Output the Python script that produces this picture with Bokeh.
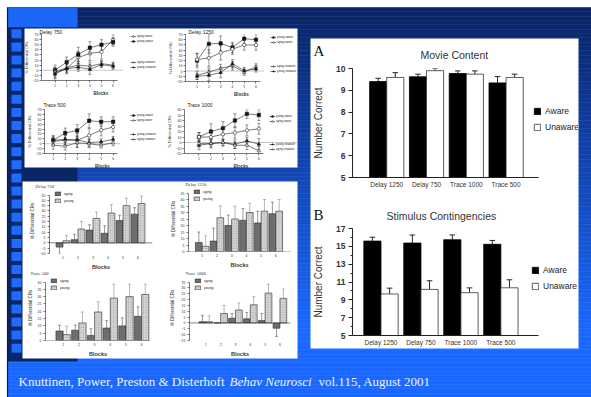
import numpy as np
from bokeh.plotting import figure
from bokeh.models import GridBox, Range1d, FixedTicker, Legend, LegendItem
from bokeh.embed import file_html
from bokeh.resources import INLINE
from bokeh.core.properties import value

W, H = 591, 397
SANS = "Liberation Sans"
SERIF = "Liberation Serif"

# ------------------------------------------------------------------ data
blocks = [1, 2, 3, 4, 5, 6]

# top-left line charts: % differential CRs
d750_aging_aware = [-5, 3, 25, 33, 36, 60]
d750_aging_aware_err = [10, 8, 12, 14, 14, 10]
d750_young_aware = [0, 16, 31, 44, 50, 55]
d750_young_aware_err = [10, 10, 14, 12, 10, 8]
d750_aging_unaware = [-3, 5, 10, 8, 13, 10]
d750_aging_unaware_err = [8, 8, 8, 8, 6, 6]
d750_young_unaware = [-7, 3, 6, 2, 11, 8]
d750_young_unaware_err = [10, 10, 8, 10, 6, 6]

d1250_young_aware = [20, 52, 53, 45, 62, 60]
d1250_young_aware_err = [14, 18, 14, 10, 10, 10]
d1250_aging_aware = [22, 25, 35, 42, 50, 50]
d1250_aging_aware_err = [12, 16, 14, 10, 10, 10]
d1250_aging_unaware = [-8, -2, 5, 10, -2, 8]
d1250_aging_unaware_err = [8, 8, 8, 8, 6, 6]
d1250_young_unaware = [-10, -8, -3, 14, 1, 4]
d1250_young_unaware_err = [6, 10, 10, 8, 6, 6]

t500_young_aware = [7, 22, 27, 47, 45, 45]
t500_young_aware_err = [10, 10, 12, 14, 10, 10]
t500_aging_aware = [5, 7, 7, 17, 28, 34]
t500_aging_aware_err = [8, 10, 14, 14, 12, 10]
t500_young_unaware = [7, 9, 8, 2, 4, 9]
t500_young_unaware_err = [8, 10, 8, 8, 6, 6]
t500_aging_unaware = [-3, -5, 2, 0, -3, 2]
t500_aging_unaware_err = [8, 8, 10, 8, 6, 6]

t1000_young_aware = [10, 20, 26, 40, 52, 50]
t1000_young_aware_err = [8, 14, 12, 12, 8, 10]
t1000_aging_aware = [10, 10, 15, 18, 22, 25]
t1000_aging_aware_err = [8, 10, 12, 10, 10, 10]
t1000_young_unaware = [-5, -2, 0, -3, 3, -3]
t1000_young_unaware_err = [8, 8, 6, 8, 6, 10]
t1000_aging_unaware = [-2, -2, 0, -5, -5, -15]
t1000_aging_unaware_err = [6, 6, 6, 6, 8, 8]

# bottom-left bar charts: % differential CRs, aging vs young
bar_d750_aging = [-4, 3, 12, 9, 21, 27]
bar_d750_aging_err = [6, 5, 5, 7, 5, 6]
bar_d750_young = [2, 13, 23, 28, 35, 37]
bar_d750_young_err = [5, 7, 6, 8, 7, 7]

bar_d1250_aging = [7, 8, 20, 24, 22, 29]
bar_d1250_aging_err = [8, 10, 8, 9, 9, 9]
bar_d1250_young = [4, 26, 25, 30, 31, 31]
bar_d1250_young_err = [8, 9, 10, 7, 9, 9]

bar_t500_aging = [6.5, 7, 3.5, 8.5, 10, 16.5]
bar_t500_aging_err = [4, 3.5, 4.5, 5, 5.5, 6.5]
bar_t500_young = [4, 12, 19.5, 29, 30, 31.5]
bar_t500_young_err = [6, 7.5, 7, 9.5, 8.5, 7]

bar_t1000_aging = [1, 0, 4, 3.5, 2, -4.5]
bar_t1000_aging_err = [5.5, 0, 4, 5.5, 6, 7]
bar_t1000_young = [1, 8, 11, 15.5, 25.5, 21]
bar_t1000_young_err = [5, 7, 6, 7, 7.5, 8]

# right: number correct
conditions = ["Delay 1250", "Delay 750", "Trace 1000", "Trace 500"]
movie_aware = [9.4, 9.62, 9.77, 9.34]
movie_aware_err = [0.15, 0.12, 0.12, 0.29]
movie_unaware = [9.59, 9.9, 9.74, 9.59]
movie_unaware_err = [0.22, 0.1, 0.15, 0.15]

stim_aware = [15.59, 15.37, 15.74, 15.23]
stim_aware_err = [0.43, 0.9, 0.54, 0.43]
stim_unaware = [9.66, 10.17, 9.8, 10.35]
stim_unaware_err = [0.65, 0.97, 0.54, 0.9]

caption_a = "Knuttinen, Power, Preston & Disterhoft"
caption_b = "Behav Neurosci"
caption_c = "vol.115, August 2001"

# ------------------------------------------------------------------ helpers
rects = []


def new_fig(frame, pad, xr, yr, ext=(0, 0, 0, 0)):
    """frame: pixel box of the data ranges xr/yr; ext: extra frame room (no axis there)."""
    fx0, fy0, fx1, fy1 = frame
    L, T, R, B = pad
    eL, eT, eR, eB = ext
    ux = (fx1 - fx0) / float(xr[1] - xr[0])
    uy = (fy1 - fy0) / float(yr[1] - yr[0])
    xr2 = (xr[0] - eL / ux, xr[1] + eR / ux)
    yr2 = (yr[0] - eB / uy, yr[1] + eT / uy)
    x0, y0 = fx0 - eL - L, fy0 - eT - T
    x1, y1 = fx1 + eR + R, fy1 + eB + B
    p = figure(width=x1 - x0, height=y1 - y0, x_range=Range1d(*xr2), y_range=Range1d(*yr2),
               output_backend="svg", toolbar_location=None,
               min_border_left=L, min_border_right=R, min_border_top=T, min_border_bottom=B)
    p.background_fill_color = None
    p.border_fill_color = None
    p.outline_line_color = None
    p.xgrid.visible = False
    p.ygrid.visible = False
    if eL or eR:
        p.xaxis.bounds = tuple(xr)
    if eT or eB:
        p.yaxis.bounds = tuple(yr)
    rects.append((p, x0, y0, x1, y1))
    return p


def style_axis(ax, lab_size, tick_out, standoff, label, label_size, label_standoff,
               label_bold=False, tick_bold=False, color="#333333", line_w=0.6, font=SANS):
    ax.major_label_text_font = font
    ax.major_label_text_font_size = lab_size
    ax.major_label_text_color = color
    ax.major_label_text_font_style = "bold" if tick_bold else "normal"
    ax.major_label_standoff = int(standoff)
    ax.major_tick_out = int(tick_out)
    ax.major_tick_in = 0
    ax.minor_tick_line_color = None
    ax.axis_line_width = line_w
    ax.major_tick_line_width = line_w
    ax.axis_line_color = "#222222"
    ax.major_tick_line_color = "#222222"
    ax.axis_label = label
    ax.axis_label_text_font = font
    ax.axis_label_text_font_size = label_size
    ax.axis_label_text_font_style = "bold" if label_bold else "normal"
    ax.axis_label_text_color = color
    ax.axis_label_standoff = int(label_standoff)


def set_title(p, text, size, off, stand, font=SANS, align="left", color="#222222"):
    p.title.text = text
    p.title.text_font = font
    p.title.text_font_size = size
    p.title.text_font_style = "normal"
    p.title.text_color = color
    p.title.align = align
    p.title.offset = off
    p.title.standoff = stand


def make_legend(p, items, loc, size, gw, gh, spacing, standoff):
    leg = Legend(items=items, location=loc, label_text_font=SANS, label_text_font_size=size,
                 label_text_color="#222222", glyph_width=gw, glyph_height=gh, label_height=gh,
                 label_width=0, spacing=spacing, label_standoff=standoff, padding=0, margin=0,
                 border_line_color=None, background_fill_alpha=0)
    p.add_layout(leg)


def line_chart(frame, px1, px6, yr, yticks, title, t_off, t_stand, series, groups,
               leg_x, leg_tops, zero_end):
    fx0, fy0, fx1, fy1 = frame
    u = (px6 - px1) / 5.0
    xs = 1 - (px1 - fx0) / u
    xe = 6 + (fx1 - px6) / u
    p = new_fig(frame, (17, 10, 0, 14), (xs, xe), yr)
    set_title(p, title, "5px", t_off, t_stand)
    p.segment(x0=[xs], y0=[0], x1=[zero_end if zero_end else xe], y1=[0],
              line_color="#a0a0a0", line_width=0.6)
    rends = {}
    cap = 0.13
    for lab, vals, errs, marker, filled in series:
        lo = [v - e for v, e in zip(vals, errs)]
        hi = [v + e for v, e in zip(vals, errs)]
        p.segment(x0=blocks, y0=lo, x1=blocks, y1=hi, line_color="#333333", line_width=0.5)
        p.segment(x0=[b - cap for b in blocks], y0=hi, x1=[b + cap for b in blocks], y1=hi,
                  line_color="#333333", line_width=0.5)
        p.segment(x0=[b - cap for b in blocks], y0=lo, x1=[b + cap for b in blocks], y1=lo,
                  line_color="#333333", line_width=0.5)
        ln = p.line(blocks, vals, line_color="#222222", line_width=0.6)
        sc = p.scatter(blocks, vals, marker=marker, size=3.4,
                       fill_color="#111111" if filled else "white",
                       line_color="#111111", line_width=0.5)
        rends[lab] = [ln, sc]
    p.xaxis.ticker = FixedTicker(ticks=blocks)
    p.xaxis.bounds = (xs, 6.4)
    style_axis(p.xaxis[0], "3.5px", 2, 1, "Blocks", "4.5px", 1, label_bold=True)
    p.yaxis.ticker = FixedTicker(ticks=yticks)
    style_axis(p.yaxis[0], "3.5px", 2, 1, "% Differential CRs", "4px", 1)
    for grp, top in zip(groups, leg_tops):
        n = len(grp)
        h = n * 4 + (n - 1) * 1
        items = [LegendItem(label=g, renderers=rends[g]) for g in grp]
        make_legend(p, items, (leg_x - fx0, fy1 - (top + h)), "2.8px", 6, 4, 1, 1)
    return p


def bar_chart(frame, px1, px6, yr, yticks, title, t_off, t_stand, aging, aging_err,
              young, young_err, leg_x, leg_top):
    fx0, fy0, fx1, fy1 = frame
    u = (px6 - px1) / 5.0
    xs = 1 - (px1 - fx0) / u
    xe = 6 + (fx1 - px6) / u
    p = new_fig(frame, (19, 6, 6, 15), (xs, xe), yr, ext=(0, 7, 0, 0))
    set_title(p, title, "4.5px", t_off, t_stand, font=SERIF, color="#333333")
    bw = 0.46
    xa = [b - bw / 2 for b in blocks]
    xy = [b + bw / 2 for b in blocks]
    cap = 0.1
    for xx, vals, errs, col in ((xa, aging, aging_err, "#555555"), (xy, young, young_err, "#8a8a8a")):
        ends = [v + e if v >= 0 else v - e for v, e in zip(vals, errs)]
        p.segment(x0=xx, y0=vals, x1=xx, y1=ends, line_color=col, line_width=0.6)
        p.segment(x0=[x - cap for x in xx], y0=ends, x1=[x + cap for x in xx], y1=ends,
                  line_color=col, line_width=0.6)
    ra = p.vbar(x=xa, width=bw, top=aging, bottom=0, fill_color="#6e6e6e",
                line_color="#2a2a2a", line_width=0.6)
    ry = p.vbar(x=xy, width=bw, top=young, bottom=0, fill_color="#d8d8d8",
                line_color="#2a2a2a", line_width=0.6, hatch_pattern="cross",
                hatch_scale=2.5, hatch_color="#a0a0a0", hatch_weight=0.4)
    p.segment(x0=[xs], y0=[0], x1=[xe], y1=[0], line_color="#333333", line_width=0.6)
    p.xaxis.ticker = FixedTicker(ticks=blocks)
    style_axis(p.xaxis[0], "3.5px", 0, 2, "Blocks", "5.5px", 2, label_bold=True)
    p.xaxis.axis_line_color = None
    p.yaxis.ticker = FixedTicker(ticks=yticks)
    style_axis(p.yaxis[0], "3.5px", 2, 2, "% Differential CRs", "4.5px", 2)
    items = [LegendItem(label="aging", renderers=[ra]), LegendItem(label="young", renderers=[ry])]
    make_legend(p, items, (leg_x - fx0, fy1 - (leg_top + 12)), "3.5px", 7, 5, 2, 3)
    return p


def right_chart(frame, pad, px1, px4, yr, yticks, minor, title, t_off, t_stand,
                aware, aware_err, unaware, unaware_err, leg_x, leg_top):
    fx0, fy0, fx1, fy1 = frame
    u = (px4 - px1) / 3.0
    xs = 1 - (px1 - fx0) / u
    xe = 4 + (fx1 - px4) / u
    p = new_fig(frame, pad, (xs, xe), yr, ext=(0, 0, 578 - fx1, 0))
    set_title(p, title, "10.5px", t_off, t_stand, align="left", color="#333333")
    groups = [1, 2, 3, 4]
    bw = 0.43
    xa = [g - bw / 2 for g in groups]
    xu = [g + bw / 2 for g in groups]
    cap = 0.07
    for xx, vals, errs in ((xa, aware, aware_err), (xu, unaware, unaware_err)):
        ends = [v + e for v, e in zip(vals, errs)]
        p.segment(x0=xx, y0=vals, x1=xx, y1=ends, line_color="#111111", line_width=0.9)
        p.segment(x0=[x - cap for x in xx], y0=ends, x1=[x + cap for x in xx], y1=ends,
                  line_color="#111111", line_width=0.9)
    ra = p.vbar(x=xa, width=bw, top=aware, bottom=yr[0], fill_color="#000000",
                line_color="#000000", line_width=0.8)
    ru = p.vbar(x=xu, width=bw, top=unaware, bottom=yr[0], fill_color="#ffffff",
                line_color="#333333", line_width=0.8)
    p.xaxis.ticker = FixedTicker(ticks=groups)
    p.xaxis.major_label_overrides = {g: c for g, c in zip(groups, conditions)}
    style_axis(p.xaxis[0], "6.5px", 0, 3, "", "1px", 0, line_w=1)
    p.xaxis.axis_label = None
    if minor:
        p.yaxis.ticker = FixedTicker(ticks=yticks, minor_ticks=minor)
    else:
        p.yaxis.ticker = FixedTicker(ticks=yticks)
    style_axis(p.yaxis[0], "8.5px", 4, 3, "Number Correct", "10px", 9, tick_bold=True, line_w=1)
    if minor:
        p.yaxis.minor_tick_line_color = "#222222"
        p.yaxis.minor_tick_out = 2
        p.yaxis.minor_tick_in = 0
    items = [LegendItem(label="Aware", renderers=[ra]), LegendItem(label="Unaware", renderers=[ru])]
    make_legend(p, items, (leg_x - fx0, fy1 - (leg_top + 23)), "8.5px", 8, 8, 6, 4)
    return p


# ------------------------------------------------------------------ background / slide
bg = figure(width=W, height=H, x_range=Range1d(0, W), y_range=Range1d(H, 0),
            output_backend="svg", toolbar_location=None, x_axis_type=None, y_axis_type=None,
            min_border=0)
bg.outline_line_color = None
bg.background_fill_color = "white"
bg.border_fill_color = "white"

n_strip = 90
edges = np.linspace(7, H, n_strip + 1)
mids = (edges[:-1] + edges[1:]) / 2
tt = np.clip((mids - 7) / 320.0, 0, 1)
c0 = np.array([10, 36, 100])
c1 = np.array([26, 104, 255])
grad = ["#%02x%02x%02x" % tuple((c0 + (c1 - c0) * t).astype(int)) for t in tt]
bg.quad(left=7, right=W, top=edges[:-1], bottom=edges[1:], fill_color=grad, line_color=grad,
        line_width=0.6)
bg.quad(left=[7], right=[77], top=[7], bottom=[27], fill_color="#1c68f6", line_color=None)
bg.quad(left=[7], right=[77], top=[27], bottom=[361], fill_color="#0b2667", line_color=None)
sq_top = [28.8 + 13.1 * k for k in range(26) if 28.8 + 13.1 * k < 352]
bg.quad(left=11, right=21, top=sq_top, bottom=[t + 9 for t in sq_top], fill_color="#1d6bff",
        line_color=None)
bg.segment(x0=[7], y0=[7], x1=[7], y1=[H], line_color="#071a4d", line_width=1.2)
# white panels
bg.quad(left=[24, 22, 310], right=[297, 297, 578], top=[28, 181, 38], bottom=[167, 358, 348],
        fill_color="white", line_color=None)
bg.text(x=[313, 313], y=[50, 214], text=["A", "B"], text_font=value(SERIF),
        text_font_size="15px", text_color="#111111", text_baseline="middle")
bg.text(x=[18], y=[381], text=[caption_a], text_font=value(SERIF), text_font_size="13px",
        text_color="#eef2ff", text_baseline="middle")
bg.text(x=[229], y=[381], text=[caption_b], text_font=value(SERIF), text_font_size="13px",
        text_font_style="italic", text_color="#eef2ff", text_baseline="middle")
bg.text(x=[318], y=[381], text=[caption_c], text_font=value(SERIF), text_font_size="13px",
        text_color="#eef2ff", text_baseline="middle")
rects.append((bg, 0, 0, W, H))

# ------------------------------------------------------------------ line charts
yt70 = [-20, -10, 0, 10, 20, 30, 40, 50, 60, 70]
yt60 = [-20, -10, 0, 10, 20, 30, 40, 50, 60]

line_chart((37, 34, 160, 84), 51, 111, (-20, 70), yt70, "Delay 750", -2, 0,
           [("aging aware", d750_aging_aware, d750_aging_aware_err, "circle", False),
            ("young aware", d750_young_aware, d750_young_aware_err, "square", True),
            ("aging unaware", d750_aging_unaware, d750_aging_unaware_err, "triangle", False),
            ("young unaware", d750_young_unaware, d750_young_unaware_err, "triangle", True)],
           [["aging aware", "young aware"], ["aging unaware", "young unaware"]],
           126, [38, 64], 6.8)

line_chart((181, 34, 297, 85), 193, 254, (-20, 70), yt70, "Delay 1250", 3, 0,
           [("young aware", d1250_young_aware, d1250_young_aware_err, "square", True),
            ("aging aware", d1250_aging_aware, d1250_aging_aware_err, "circle", False),
            ("aging unaware", d1250_aging_unaware, d1250_aging_unaware_err, "triangle", False),
            ("young unaware", d1250_young_unaware, d1250_young_unaware_err, "triangle", True)],
           [["young aware", "aging aware"], ["aging unaware", "young unaware"]],
           266, [39, 68], 6.7)

line_chart((40, 107, 160, 157), 49, 111, (-20, 70), yt70, "Trace 500", -1, 4,
           [("young aware", t500_young_aware, t500_young_aware_err, "square", True),
            ("aging aware", t500_aging_aware, t500_aging_aware_err, "circle", False),
            ("young unaware", t500_young_unaware, t500_young_unaware_err, "triangle", True),
            ("aging unaware", t500_aging_unaware, t500_aging_unaware_err, "triangle", False)],
           [["young aware", "aging aware"], ["young unaware", "aging unaware"]],
           126, [117, 136], 6.6)

line_chart((180, 107, 297, 157), 195, 257, (-20, 60), yt60, "Trace 1000", 3, 4,
           [("young aware", t1000_young_aware, t1000_young_aware_err, "square", True),
            ("aging aware", t1000_aging_aware, t1000_aging_aware_err, "circle", False),
            ("young unaware", t1000_young_unaware, t1000_young_unaware_err, "triangle", True),
            ("aging unaware", t1000_aging_unaware, t1000_aging_unaware_err, "triangle", False)],
           [["young aware", "aging aware"], ["young unaware", "aging unaware"]],
           265, [118, 146], None)

# ------------------------------------------------------------------ bar charts
bar_chart((45, 194, 152, 257), 59, 137, (-10, 45), list(range(-10, 46, 5)), "Delay 750", -14, 0,
          bar_d750_aging, bar_d750_aging_err, bar_d750_young, bar_d750_young_err, 50, 195)
bar_chart((186, 192, 290, 255), 200, 275, (0, 45), list(range(0, 46, 5)), "Delay 1250", -3, 0,
          bar_d1250_aging, bar_d1250_aging_err, bar_d1250_young, bar_d1250_young_err, 191, 193)
bar_chart((43, 281, 150, 344), 61, 141, (0, 40), list(range(0, 41, 5)), "Trace 500", -15, 0,
          bar_t500_aging, bar_t500_aging_err, bar_t500_young, bar_t500_young_err, 48, 282)
bar_chart((185, 281, 290, 344), 202, 279, (-15, 35), list(range(-15, 36, 5)), "Trace 1000", -4, 0,
          bar_t1000_aging, bar_t1000_aging_err, bar_t1000_young, bar_t1000_young_err, 190, 282)

# ------------------------------------------------------------------ right charts
right_chart((347, 66, 537, 177), (37, 28, 0, 13), 382, 504, (5, 10), [5, 6, 7, 8, 9, 10], None,
            "Movie Content", 68, 16, movie_aware, movie_aware_err, movie_unaware,
            movie_unaware_err, 528, 109)
right_chart((348, 228, 537, 338), (38, 32, 0, 10), 377, 499, (5, 17), [5, 7, 9, 11, 13, 15, 17],
            [6, 8, 10, 12, 14, 16], "Stimulus Contingencies", 34, 14, stim_aware, stim_aware_err,
            stim_unaware, stim_unaware_err, 527, 271)

# ------------------------------------------------------------------ absolute placement via CSS grid
rects = [r for r in rects if r[0] is bg] + [r for r in rects if r[0] is not bg]
xe_ = sorted({0, W} | {int(r[1]) for r in rects} | {int(r[3]) for r in rects})
ye_ = sorted({0, H} | {int(r[2]) for r in rects} | {int(r[4]) for r in rects})
cols = ["%dpx" % (b - a) for a, b in zip(xe_, xe_[1:])]
rows = ["%dpx" % (b - a) for a, b in zip(ye_, ye_[1:])]
children = []
for obj, x0, y0, x1, y1 in rects:
    r0, c0_ = ye_.index(int(y0)), xe_.index(int(x0))
    children.append((obj, r0, c0_, ye_.index(int(y1)) - r0, xe_.index(int(x1)) - c0_))

root = GridBox(children=children, rows=rows, cols=cols, width=W, height=H, spacing=0)

open("out.html", "w").write(file_html(root, INLINE))
